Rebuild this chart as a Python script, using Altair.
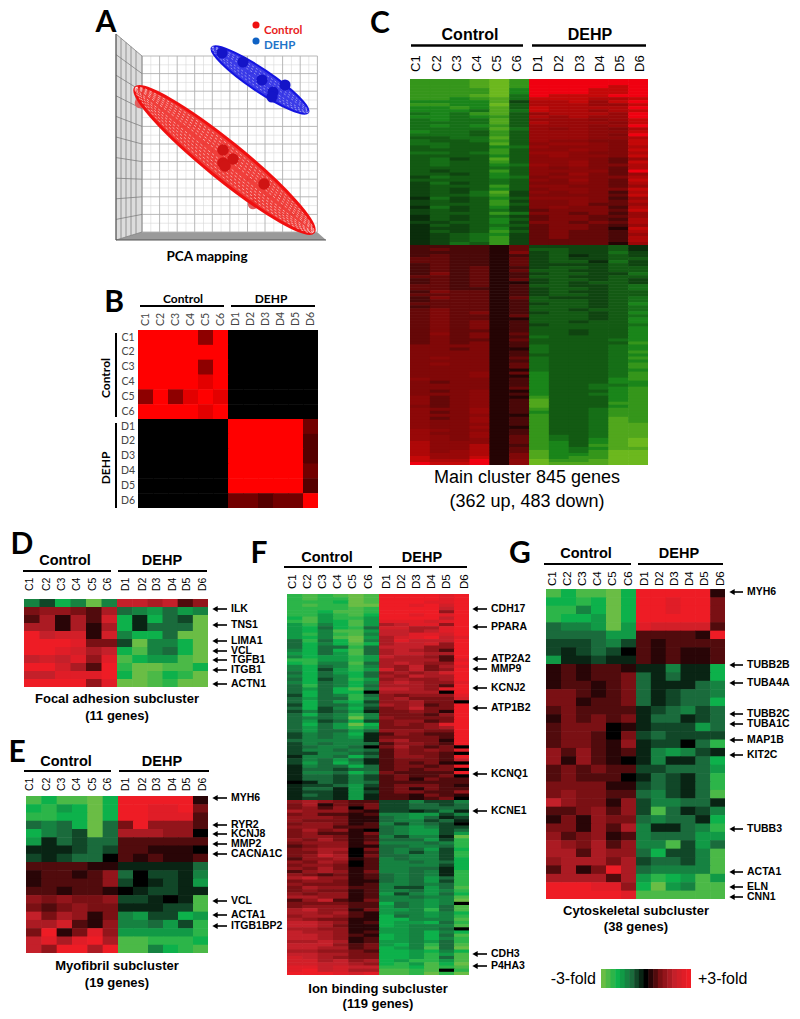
import altair as alt
import pandas as pd

# ---------- values: digits are magnitudes 0-9, 12 per row (C1..C6, D1..D6)
B_ROWS = ["999959000000","999999000000","999959000000","999989000000","595898000000","999989000000",
          "000000999994","000000999993","000000999993","000000999994","000000999993","000000443449"]

C_TOP = ["777897999999","777897999999","777897999989","777796999889","777796999889","777895988899",
"776785888778","666683778689","776694777668","667684877779","666585877678","565784677769",
"665674767669","565584666568","555584766658","565674666569","555585656547","655474666558",
"555474666549","445584666557","544574655448","554484566548","454465655547","444474556548",
"554574665447","444464565548","453484555436","454474556438","454465656447","444454545437",
"434474555539","443464546436","354465455447","444454546438","353454445437","344474554436",
"343464455448","343583545427","344573444438","253464555426","343473445437","344474445336",
"253463454427","343453344438","344475443426","243453344336","243464344327","334463443437",
"243454344326","233463344318","243474343327","234563343326","234573343327","234573333327",
"235473333316"]
C_BOT = ["222213333342","232213443342","222214343353","232212342343","332213343344","332213344253",
"232213333343","232312344344","232313443344","242312344335","332312443344","232313344343",
"232311343443","332312443345","332212344345","243312343344","333312344344","243313433345",
"233312444345","333312344346","233312444345","343312443445","343412344346","343313444345",
"343311444346","343412443446","343412344445","343412444446","343312443446","353413443446",
"343412544446","343313444456","343412444447","444412544456","443411544456","444412544457",
"444412444456","454413544457","444412544456","454413544457","444413544457","444411544456",
"444513644457","444511644457","544412644467","434412644466","444412644556","444413644567",
"434511644467","444512644567","534511744467","534512844467","534512844477","434512844467",
"544612744577","534612644577","544511744577","534612744587","544612744587","544512744588",
"544611744588","654512744588","644612744588","654613754588","654513754689","755513764689",
"755712764789","755713765688","756713865799","766714866799","866814867799","877915977899",
"988915988899"]

D_TOP = ["426494665624"]
D_BOT = ["344325345354","251527616329","551515613339","967717466399","999833294469",
"998756684369","676848865589","997529799886","668889698679","999948998799"]

E_TOP = ["868896999991","675696998893","776696998882","343693394442","643293555440",
"513233222222","111232221110","212330212112"]
E_BOT = ["222211111113","122124302214","122224201215","221221012211","434334221018",
"323433111228","635413452265","557214443527","391384555557","685895887776","649959884678"]

F_TOP = ["787898999989","787798999989","777698999889","787799998979","777787999969",
"776887999949","775786998989","685775999969","785685888789","574685568849","563673775589",
"564885665689","574784668879","564895578968","373694586669","364686566749","363373666449",
"463683565429","563583566559","465575655429","775575555528","674483565449","463474546358",
"462575746349","363563454579","463463546559","362475454459","463464565448","373463555429",
"353684665489","363660555509","263473434448","353374453337","363562445330","263353545239",
"362462346339","242351334319","363474333249","343494433339","352362344239","363596343489",
"353575333459","353353444339","243461243229","243451333329","344441453319","243443244329",
"234430353230","244343243438","224432243320","144363244329","243531233326","253641232310",
"143363233239","133233232330","144364322229","133242232230","133242231322","013243222222",
"122352233321","133151231322","122152233224","132151221321","122151221230"]
F_BOT = ["454322224224","351323223323","342403223333","544421221241","342212445524",
"444311345312","433311344231","344312424320","444222345422","353410345523",
"342213345525","344312424419","435312333527","344413444347","234411334437",
"345503343526","335402342427","346503334427","244512434426","435402443436",
"344302444426","435312443316","245413443417","432312343417","564412343537",
"344311343527","433312443437","354422422538","343312443547","434412524536",
"554412443448","246213444549","333322634540","344422534538","564413554738",
"554521544546","455421634547","543311664448","665412655637","665311654448",
"554411554430","655412554646","665421654638","665412654647","556512554537",
"666423564738","665523654839","554432665646","665533665758","765433665738",
"775645657758","776654675869","886766776878","896755887807","999878887979"]

G_TOP = ["868896999991","667696998993","774696998993","766596999993","344595877772",
"333355222219","222342212222","212320212112","511211212112"]
G_BOT = ["121221114116","121223313116","122123311134","332123312334","331223312336",
"232222123423","132323133123","233301122253","233203232222","233214122037",
"424212145421","414210141136","232322223335","232220132137","333311232137",
"343322342138","643314244331","223424283124","131433343316","331425411347",
"423412433355","543524448253","552544362248","455535233248","251395344448",
"555525576585","999884695488","999998888888"]

LEGEND_STEPS = [-9,-8,-7,-6,-5,-4,-3,-2,-1,0,1,2,3,4,5,6,7,8,9]

CONTROL_COLS = ["C1","C2","C3","C4","C5","C6"]
DEHP_COLS = ["D1","D2","D3","D4","D5","D6"]

D_GENES = [("ILK",609),("TNS1",625),("LIMA1",641),("VCL",651),("TGFB1",660),("ITGB1",670),("ACTN1",684)]
E_GENES = [("MYH6",798),("RYR2",825),("KCNJ8",834),("MMP2",844),("CACNA1C",854),("VCL",901),("ACTA1",915),("ITGB1BP2",926)]
F_GENES = [("CDH17",609),("PPARA",627),("ATP2A2",659),("MMP9",669),("KCNJ2",688),("ATP1B2",708),("KCNQ1",774),("KCNE1",811),("CDH3",954),("P4HA3",966)]
G_GENES = [("MYH6",592),("TUBB2B",665),("TUBA4A",683),("TUBB2C",714),("TUBA1C",724),("MAP1B",740),("KIT2C",755),("TUBB3",829),("ACTA1",872),("ELN",887),("CNN1",897)]

PCA_CONTROL = [(223,150),(233,159),(223,163),(225,166),(264,184)]
PCA_CONTROL_FAINT = [(253,204),(140,103)]
PCA_DEHP = [(222,53),(243,62),(262,80),(285,85),(273,92),(272,97)]

# ---------- layout helpers
X = alt.X("x:Q", scale=alt.Scale(domain=[8, 792]), axis=None)
Y = alt.Y("y:Q", scale=alt.Scale(domain=[8, 1011], reverse=True), axis=None)
X2 = alt.X2("x2:Q")
Y2 = alt.Y2("y2:Q")
FONT = "Liberation Sans"
LATO = "Lato"


def heat_cells(top, bot, x0, xm, x1, y0, ys, y1):
    recs = []
    for rows, ya, yb, sign in ((top, y0, ys, -1), (bot, ys, y1, 1)):
        h = (yb - ya) / max(len(rows), 1)
        for r, s in enumerate(rows):
            for c, ch in enumerate(s):
                if c < 6:
                    w = (xm - x0) / 6; xa = x0 + c * w; sg = sign
                else:
                    w = (x1 - xm) / 6; xa = xm + (c - 6) * w; sg = -sign
                top_y = ya + r * h
                recs.append(dict(x=xa, x2=min(xa + w + 0.6, x1), y=top_y,
                                 y2=min(top_y + h + 0.6, y1), v=sg * int(ch)))
    return recs


def rect_layer(recs, field, domain, colors):
    df = pd.DataFrame(recs).rename(columns={"v": field})
    return alt.Chart(df).mark_rect(strokeWidth=0, opacity=1).encode(
        x=X, x2=X2, y=Y, y2=Y2,
        color=alt.Color(f"{field}:Q", scale=alt.Scale(domain=domain, range=colors, interpolate="rgb"), legend=None))


def rules(recs, width, color="#000000", opacity=1.0):
    return alt.Chart(pd.DataFrame(recs)).mark_rule(strokeWidth=width, color=color, opacity=opacity).encode(
        x=X, x2=X2, y=Y, y2=Y2)


def texts(recs, size, font=FONT, weight="normal", color="#000000", align="center", angle=0, baseline="alphabetic"):
    return alt.Chart(pd.DataFrame(recs)).mark_text(
        fontSize=size, font=font, fontWeight=weight, color=color, align=align, angle=angle, baseline=baseline
    ).encode(x=X, y=Y, text="t:N")


def hline(x1, x2, y):
    return dict(x=x1, x2=x2, y=y, y2=y)


def ellipse_path(r):
    k = 0.5523
    return (f"M-1,0C-1,{-k*r:.4f},{-k:.4f},{-r:.4f},0,{-r:.4f}C{k:.4f},{-r:.4f},1,{-k*r:.4f},1,0"
            f"C1,{k*r:.4f},{k:.4f},{r:.4f},0,{r:.4f}C{-k:.4f},{r:.4f},-1,{k*r:.4f},-1,0Z")


layers = []

# ---------- A: PCA box
wall = pd.DataFrame({"x": [116, 142], "y": [34, 56], "y2": [240, 232]})
layers.append(alt.Chart(wall).mark_area(color="#dcdcdc", opacity=1).encode(x=X, y=Y, y2=Y2))
floor = pd.DataFrame({"x": [116, 142, 317, 326], "y": [240, 232, 232, 240], "y2": [240, 240, 240, 240]})
layers.append(alt.Chart(floor).mark_area(color="#9a9a9a", opacity=1).encode(x=X, y=Y, y2=Y2))

GRID_X = [142, 159.6, 177.2, 194.7, 212.3, 229.9, 247.5, 265, 282.6, 300.2, 317.4]
GRID_Y = [56, 73.6, 91.2, 108.8, 126.4, 144, 161.6, 179.2, 196.8, 214.4, 232]
WALL_FRONT_Y = [34, 54.6, 75.2, 95.8, 116.4, 137, 157.6, 178.2, 198.8, 219.4, 240]
WALL_X = [116, 121, 126, 131, 136, 142]
minor = []
for a, b in zip(GRID_X[:-1], GRID_X[1:]):
    m = (a + b) / 2
    minor.append(dict(x=m, x2=m, y=56, y2=232))
for a, b in zip(GRID_Y[:-1], GRID_Y[1:]):
    m = (a + b) / 2
    minor.append(hline(142, 317, m))
layers.append(rules(minor, 0.6, "#d6d6d6"))
major = [dict(x=g, x2=g, y=56, y2=232) for g in GRID_X] + [hline(142, 317.4, g) for g in GRID_Y]
layers.append(rules(major, 0.9, "#b0b0b0"))
wall_lines = [dict(x=116, x2=142, y=f, y2=b) for f, b in zip(WALL_FRONT_Y, GRID_Y)]
for wx in WALL_X:
    t = (wx - 116) / 26
    wall_lines.append(dict(x=wx, x2=wx, y=34 + 22 * t, y2=240 - 8 * t))
layers.append(rules(wall_lines, 0.8, "#808080"))
layers.append(rules([dict(x=116, x2=116, y=34, y2=240), hline(116, 326, 240)], 1.0, "#555555"))


def ellipse(cx, cy, size, angle, r, fill=None, stroke=None, sw=1, dash=None, fo=1.0, so=1.0):
    kw = dict(shape=ellipse_path(r), size=size, angle=angle, opacity=1, strokeWidth=sw)
    if fill:
        kw.update(filled=True, fill=fill, fillOpacity=fo)
    else:
        kw.update(filled=False, fill="transparent")
    if stroke:
        kw.update(stroke=stroke, strokeOpacity=so)
    if dash:
        kw.update(strokeDash=dash)
    return alt.Chart(pd.DataFrame({"x": [cx], "y": [cy]})).mark_point(**kw).encode(x=X, y=Y)


def spheres(pts, color, size, opacity=1.0):
    df = pd.DataFrame(pts, columns=["x", "y"])
    return alt.Chart(df).mark_circle(size=size, color=color, opacity=opacity).encode(x=X, y=Y)


layers.append(spheres(PCA_CONTROL_FAINT, "#e06060", 110))
layers.append(ellipse(224.5, 160, 52441, 39, 0.16, fill="#ee2a26", fo=0.9, stroke="#f01010", sw=3))
for rr in (0.125, 0.10, 0.075, 0.05, 0.025):
    layers.append(ellipse(224.5, 160, 52441, 39, rr, stroke="#ffffff", sw=0.9, dash=[2.5, 2.5], so=0.55))
layers.append(spheres(PCA_CONTROL, "#d01414", 135))
layers.append(ellipse(260, 80, 13456, 34, 0.19, fill="#2a2ae6", fo=0.92, stroke="#1414e0", sw=2))
for rr in (0.13, 0.085, 0.04):
    layers.append(ellipse(260, 80, 13456, 34, rr, stroke="#ffffff", sw=0.8, dash=[2, 2.5], so=0.5))
layers.append(spheres(PCA_DEHP, "#1414c8", 125))
layers.append(spheres([(256, 25)], "#ee1111", 50))
layers.append(spheres([(256, 41)], "#0f62c4", 50))
layers.append(texts([dict(x=264, y=34, t="Control")], 11.5, LATO, "bold", "#e81c1c", "left"))
layers.append(texts([dict(x=264, y=49, t="DEHP")], 11.5, LATO, "bold", "#1f74c8", "left"))
layers.append(texts([dict(x=207, y=261, t="PCA mapping")], 13.5, LATO, "bold"))

# ---------- panel letters
letters = [("A", 106, 32), ("B", 114, 312), ("C", 380, 33), ("D", 22, 554), ("E", 17, 762), ("F", 259, 563), ("G", 520, 563)]
layers.append(texts([dict(x=a, y=b, t=t) for t, a, b in letters], 30, LATO, "bold"))

# ---------- B: correlation matrix
b_recs = []
cw = (318 - 138) / 12
ch = (508 - 330) / 12
for r, s in enumerate(B_ROWS):
    for c, d in enumerate(s):
        b_recs.append(dict(x=138 + c * cw, x2=min(138 + (c + 1) * cw + .5, 318),
                           y=330 + r * ch, y2=min(330 + (r + 1) * ch + .5, 508), v=int(d)))
layers.append(rect_layer(b_recs, "corr", [0, 4.5, 9], ["#000000", "#800000", "#ff0000"]))
layers.append(rules([hline(140, 224, 306), hline(231, 315, 306),
                     dict(x=116, x2=116, y=333, y2=417), dict(x=116, x2=116, y=423, y2=508)], 2))
layers.append(texts([dict(x=183, y=303, t="Control"), dict(x=271, y=303, t="DEHP")], 12, LATO, "bold"))
layers.append(texts([dict(x=106, y=378, t="Control"), dict(x=106, y=468, t="DEHP")], 12, LATO, "bold", angle=270, baseline="middle"))
names = CONTROL_COLS + DEHP_COLS
layers.append(texts([dict(x=145.5 + i * cw, y=326, t=n) for i, n in enumerate(names)], 10.5, LATO, "normal", "#444444", "left", 270, "middle"))
layers.append(texts([dict(x=128, y=337.5 + i * ch, t=n) for i, n in enumerate(names)], 10.5, LATO, "normal", "#444444", "center", 0, "middle"))

# ---------- C: main cluster
layers.append(rect_layer(heat_cells(C_TOP, C_BOT, 410, 529, 648, 79, 245, 465), "main",
                         [-9, -6, -3, 0, 2, 4, 6, 8, 9],
                         ["#6cb81e", "#1a851a", "#0f4410", "#000000", "#4a0808", "#800808", "#980808", "#c40808", "#f00010"]))


def header(cx, dx, yb, bar_c, bar_d, ybar, label_y, lx_c, lx_d, title_size, col_size, bar_w=2.5):
    out = [rules([hline(*bar_c, ybar), hline(*bar_d, ybar)], bar_w)]
    out.append(texts([dict(x=cx, y=yb, t="Control"), dict(x=dx, y=yb, t="DEHP")], title_size, FONT, "bold"))
    recs = [dict(x=a, y=label_y, t=n) for a, n in zip(lx_c + lx_d, CONTROL_COLS + DEHP_COLS)]
    out.append(texts(recs, col_size, FONT, "normal", "#000000", "left", 270, "middle"))
    return out


layers += header(470, 590, 40, (411, 523), (532, 646), 45.5, 72,
                 [416, 437, 457, 477, 497, 517], [538, 559, 580, 600, 620, 640], 16, 13)
layers.append(texts([dict(x=527, y=483, t="Main cluster 845 genes"),
                     dict(x=527, y=507, t="(362 up, 483 down)")], 18))

# ---------- D, E, F, G subclusters
sub = heat_cells(D_TOP, D_BOT, 24, 117, 208, 599, 607, 687)
sub += heat_cells(E_TOP, E_BOT, 26, 118, 208, 796, 862, 953)
sub += heat_cells(F_TOP, F_BOT, 287, 379, 469, 594, 800, 975)
sub += heat_cells(G_TOP, G_BOT, 546, 636, 725, 589, 664, 899)
LEG_X0, LEG_X1 = 601, 691
step = (LEG_X1 - LEG_X0) / len(LEGEND_STEPS)
for i, v in enumerate(LEGEND_STEPS):
    sub.append(dict(x=LEG_X0 + i * step, x2=min(LEG_X0 + (i + 1) * step + .5, LEG_X1), y=969, y2=988, v=v))
layers.append(rect_layer(sub, "fold", [-9, -6, -3, 0, 3, 6, 9],
                         ["#6abd45", "#0db14b", "#1a6b3c", "#000000", "#7a1014", "#c4202a", "#ee1c25"]))

layers += header(65, 162, 565, (23, 111), (118, 207), 571, 591,
                 [30, 47, 62, 77, 93, 108], [126, 143, 157, 173, 187, 203], 14.5, 10.5, 2)
layers += header(66, 162, 766, (24, 111), (119, 209), 771, 791,
                 [30, 47, 62, 77, 93, 108], [126, 143, 157, 173, 187, 203], 14.5, 10.5, 2)
layers += header(327, 422, 562, (284, 372), (379, 467), 567, 589,
                 [293, 308, 323, 338, 353, 369], [387, 402, 417, 432, 447, 465], 14.5, 11.5, 2)
layers += header(586, 679, 558, (544, 631), (638, 723), 564, 586,
                 [553, 568, 583, 598, 613, 629], [645, 660, 675, 690, 705, 721], 14.5, 11.5, 2)


def arrows(genes, tip, tail, label):
    ln = rules([hline(tip + 4, tail, y) for _, y in genes], 1.6)
    hd = alt.Chart(pd.DataFrame([dict(x=tip + 3, y=y) for _, y in genes])).mark_point(
        shape="triangle-left", size=38, filled=True, color="#000000", opacity=1).encode(x=X, y=Y)
    tx = texts([dict(x=label, y=y, t=g) for g, y in genes], 10.5, FONT, "bold", align="left", baseline="middle")
    return [ln, hd, tx]


layers += arrows(D_GENES, 212, 227, 231)
layers += arrows(E_GENES, 212, 227, 231)
layers += arrows(F_GENES, 472, 487, 491)
layers += arrows(G_GENES, 729, 743, 747)

layers.append(texts([dict(x=117, y=703, t="Focal adhesion subcluster"), dict(x=117, y=720, t="(11 genes)"),
                     dict(x=117, y=970, t="Myofibril subcluster"), dict(x=117, y=987, t="(19 genes)"),
                     dict(x=378, y=993, t="Ion binding subcluster"), dict(x=378, y=1008, t="(119 genes)"),
                     dict(x=636, y=915, t="Cytoskeletal subcluster"), dict(x=636, y=931, t="(38 genes)")],
                    13, FONT, "bold"))
layers.append(texts([dict(x=596, y=984, t="-3-fold")], 16, align="right"))
layers.append(texts([dict(x=698, y=984, t="+3-fold")], 16, align="left"))

chart = alt.layer(*layers).resolve_scale(color="independent").properties(
    width=784, height=1003, padding=0, autosize=alt.AutoSizeParams(type="none")
).configure_view(strokeWidth=0)

chart.save("out.html", embed_options={"renderer": "svg", "actions": False})
